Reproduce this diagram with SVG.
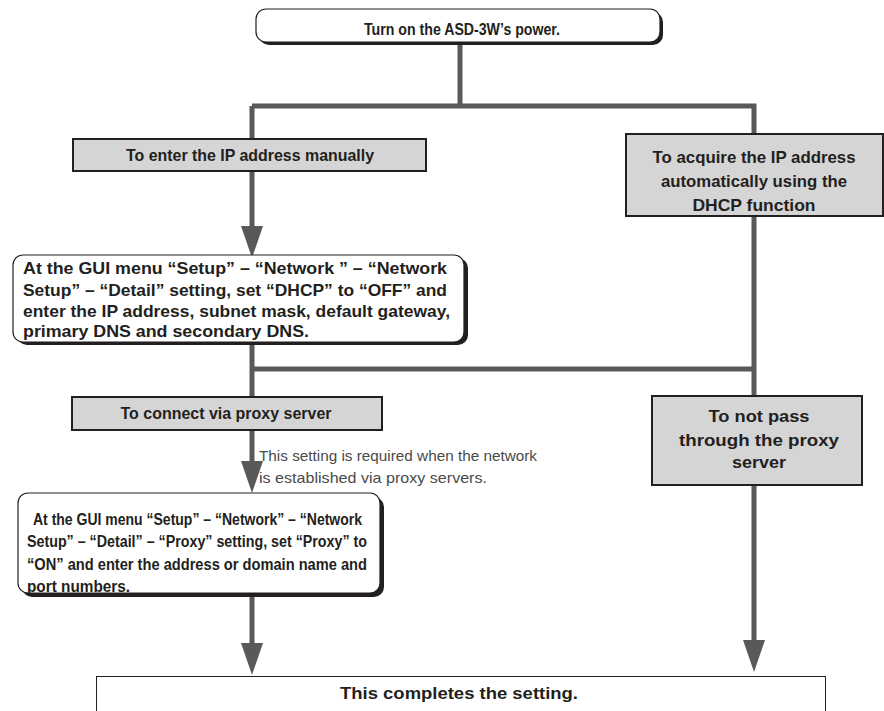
<svg xmlns="http://www.w3.org/2000/svg" width="884" height="711" viewBox="0 0 884 711">
<defs>
<style>
.t{font-family:"Liberation Sans",Arial,sans-serif;font-weight:bold;fill:#231f20}
.n{font-family:"Liberation Sans",Arial,sans-serif;font-size:15px;fill:#4a4a4a}
.c{text-anchor:middle}
.gray{fill:#d5d5d5;stroke:#231f20;stroke-width:2}
.rnd{fill:#fff;stroke:#231f20;stroke-width:1.2}
.sh{fill:#231f20}
.ln{fill:none;stroke:#59595b;stroke-width:5}
.ah{fill:#59595b}
</style>
</defs>
<rect width="884" height="711" fill="#fff"/>
<g id="connectors">
<path class="ln" d="M460 42V106M252 106H756.5M252 106V139M754 106V134"/>
<path class="ln" d="M252 171V232"/>
<polygon class="ah" points="241,226 263,226 252,258"/>
<path class="ln" d="M252 342V397M252 369H756.5M754 216V396"/>
<path class="ln" d="M252 430V466"/>
<polygon class="ah" points="241,461 263,461 252,493"/>
<path class="ln" d="M252 596V648"/>
<polygon class="ah" points="241,643 263,643 252,675"/>
<path class="ln" d="M754 485V645"/>
<polygon class="ah" points="743,640 765,640 754,672"/>
</g>
<g id="n_power">
<rect class="sh" x="259" y="12" width="404" height="33" rx="10"/>
<rect class="rnd" x="256" y="9" width="404" height="33" rx="10"/>
<text class="t c" x="462" y="34.5" font-size="16" textLength="196" lengthAdjust="spacingAndGlyphs">Turn on the ASD-3W’s power.</text>
</g>
<g id="n_manual">
<rect class="gray" x="73" y="139" width="353" height="32"/>
<text class="t c" x="250" y="161" font-size="17" textLength="248" lengthAdjust="spacingAndGlyphs">To enter the IP address manually</text>
</g>
<g id="n_dhcp">
<rect class="gray" x="626" y="134" width="257" height="82"/>
<text class="t c" x="754" y="163" font-size="17" textLength="203" lengthAdjust="spacingAndGlyphs">To acquire the IP address</text>
<text class="t c" x="754" y="187" font-size="17" textLength="186" lengthAdjust="spacingAndGlyphs">automatically using the</text>
<text class="t c" x="754" y="211" font-size="17" textLength="123" lengthAdjust="spacingAndGlyphs">DHCP function</text>
</g>
<g id="n_gui_ip">
<rect class="sh" x="17" y="258" width="451" height="87" rx="10"/>
<rect class="rnd" x="13" y="255" width="451" height="87" rx="10"/>
<text class="t" x="23" y="274" font-size="17" textLength="424" lengthAdjust="spacingAndGlyphs"> At the GUI menu “Setup” – “Network ” – “Network</text>
<text class="t" x="23" y="296" font-size="17" textLength="424" lengthAdjust="spacingAndGlyphs">Setup” – “Detail” setting, set “DHCP” to “OFF” and</text>
<text class="t" x="23" y="317" font-size="17" textLength="427" lengthAdjust="spacingAndGlyphs">enter the IP address, subnet mask, default gateway,</text>
<text class="t" x="23" y="337" font-size="17" textLength="286" lengthAdjust="spacingAndGlyphs">primary DNS and secondary DNS.</text>
</g>
<g id="n_proxy">
<rect class="gray" x="72" y="397" width="310" height="33"/>
<text class="t c" x="226" y="419" font-size="17" textLength="211" lengthAdjust="spacingAndGlyphs">To connect via proxy server</text>
</g>
<g id="n_noproxy">
<rect class="gray" x="652" y="396" width="210" height="89"/>
<text class="t c" x="759" y="422" font-size="17" textLength="101" lengthAdjust="spacingAndGlyphs">To not pass</text>
<text class="t c" x="759" y="446" font-size="17" textLength="160" lengthAdjust="spacingAndGlyphs">through the proxy</text>
<text class="t c" x="759" y="468" font-size="17" textLength="54" lengthAdjust="spacingAndGlyphs">server</text>
</g>
<g id="note">
<text class="n" x="259" y="461" textLength="278" lengthAdjust="spacingAndGlyphs">This setting is required when the network</text>
<text class="n" x="259" y="483" textLength="228" lengthAdjust="spacingAndGlyphs">is established via proxy servers.</text>
</g>
<g id="n_gui_proxy">
<rect class="sh" x="22" y="497" width="362" height="100" rx="10"/>
<rect class="rnd" x="18" y="493" width="362" height="100" rx="10"/>
<text class="t" x="33" y="525" font-size="16" textLength="329" lengthAdjust="spacingAndGlyphs">At the GUI menu “Setup” – “Network” – “Network</text>
<text class="t" x="27" y="547" font-size="16" textLength="340" lengthAdjust="spacingAndGlyphs">Setup” – “Detail” – “Proxy” setting, set “Proxy” to</text>
<text class="t" x="27" y="570" font-size="16" textLength="340" lengthAdjust="spacingAndGlyphs">“ON” and enter the address or domain name and</text>
<text class="t" x="27" y="592" font-size="16" textLength="103" lengthAdjust="spacingAndGlyphs">port numbers.</text>
</g>
<g id="n_done">
<rect x="96.5" y="676.5" width="729" height="40" fill="#fff" stroke="#231f20" stroke-width="1"/>
<text class="t c" x="459" y="699" font-size="17" textLength="238" lengthAdjust="spacingAndGlyphs">This completes the setting.</text>
</g>
</svg>
